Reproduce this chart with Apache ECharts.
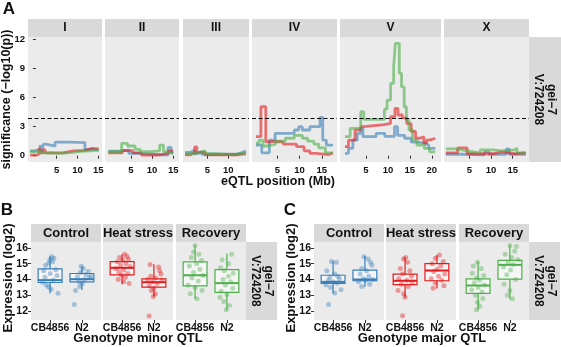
<!DOCTYPE html>
<html><head><meta charset="utf-8">
<script src="https://cdn.jsdelivr.net/npm/echarts@6/dist/echarts.min.js"></script>
<style>html,body{margin:0;padding:0;background:#fff}#c{width:561px;height:347px}</style>
</head><body><div id="c"></div>
<script>
// ---------------- DATA ----------------
const chrNames = ['I','II','III','IV','V','X'];
const chrXMin = [-1.9,-1.13,-0.79,-0.7,-0.93,-0.83];
const chrXMax = [15.9,16.36,14.93,18.4,22.1,18.75];
const chrTicks = [[5,10,15],[5,10,15],[5,10],[5,10,15],[5,10,15,20],[5,10,15]];
const sigTicks = [0,3,6,9,12];
const threshold = 3.88;
const traitLabel = 'gei\u22127\nV:724208';

// significance profiles per chromosome: [position Mb, -log10(p)] (step)
const controlSig = [
  [[-1.4,0.5],[-0.5,0.6],[1.0,1.1],[1.4,0.4],[1.8,1.2],[2.4,1.0],[4.6,1.4],[8,1.35],[11.8,0.65],[13.5,0.55],[15.1,0.55]],
  [[-0.35,0.48],[2,0.58],[4.5,0.24],[6.5,0.07],[13.8,0.86],[14.5,0.3],[15.0,0.3]],
  [[-0.3,0.35],[1,0.55],[2,0.2],[2.5,0.4],[3.7,0.15],[12,0.3],[13.2,0.5],[14.2,0.5]],
  [[0.2,1.1],[1.5,0.3],[3.2,1.6],[4.5,2.3],[8.8,2.65],[9.8,3.0],[10.6,2.65],[12.3,3.0],[14.6,3.95],[15.2,1.6],[16.0,1.1],[17.5,1.1]],
  [[0.2,0.25],[1,0.75],[2,1.6],[3,2.3],[3.8,2.82],[4.3,1.96],[7.3,2.3],[9.3,2.0],[11.5,3.0],[12.2,2.1],[13.8,1.8],[15.3,1.4],[16.8,1.3],[18.3,1.1],[19.3,0.75],[20.8,0.7]],
  [[-0.4,0.15],[3,0.1],[8.5,0.4],[9.5,0.15],[13.5,0.7],[14.2,0.15],[18,0.15]]
];
const heatSig = [
  [[-1.4,0.05],[0.3,0.2],[0.8,0.8],[1.2,0.3],[1.7,0.6],[2.2,0.3],[6.5,0.5],[9.0,0.55],[11.8,0.75],[13.5,0.7],[15.1,0.7]],
  [[-0.35,0.3],[3,0.52],[5.5,0.3],[7.5,0.07],[11.5,0.24],[13.8,0.48],[15.0,0.48]],
  [[-0.3,0.1],[1,0.3],[2.0,0.9],[2.5,0.35],[4.5,0.1],[12.5,0.2],[14.2,0.2]],
  [[0.2,1.96],[1.3,5.05],[2.4,1.44],[6.3,1.2],[9.3,0.93],[11.0,0.5],[12.3,0.25],[13.8,0.1],[16.5,0.3],[17.5,0.3]],
  [[0.2,0.93],[1,1.6],[2.5,2.65],[3.8,3.0],[4.5,3.2],[9.2,3.34],[10.6,4.03],[11.6,4.88],[12.3,4.2],[13.3,3.9],[14.3,3.3],[15.3,2.5],[16.3,1.8],[17.3,1.96],[18.2,1.3],[18.8,1.6],[19.5,1.8],[20.8,1.8]],
  [[-0.4,0.3],[2.3,0.8],[4.5,0.2],[10.5,0.4],[12.5,0.2],[15.5,0.3],[18,0.3]]
];
const recoverySig = [
  [[-1.4,0.4],[0.5,0.55],[1.2,0.3],[2.5,0.25],[6,0.35],[9,0.45],[11,0.5],[13,0.6],[15.1,0.6]],
  [[-0.35,0.41],[2.8,1.28],[4.2,1.0],[6,0.66],[7.2,0.41],[9.8,0.5],[11.8,1.1],[12.7,0.41],[13.3,0.24],[15.0,0.24]],
  [[-0.3,0.2],[1,0.35],[3.3,0.5],[4.5,0.2],[6.5,0.1],[11.5,0.3],[13.5,0.2],[14.2,0.2]],
  [[0.2,1.3],[0.9,1.6],[1.8,1.0],[2.8,1.2],[4.6,1.5],[6.8,1.8],[8.8,2.1],[10.6,1.8],[11.8,1.5],[13.2,1.2],[14.3,0.8],[15.8,0.3],[17.5,0.3]],
  [[0.2,1.96],[1.4,2.82],[3.2,2.9],[3.8,4.54],[4.5,3.75],[9.2,4.8],[9.8,5.74],[10.6,7.46],[11.3,9.2],[11.7,11.6],[12.6,8.5],[13.1,7.1],[13.7,5.05],[14.2,3.7],[14.8,2.65],[15.6,1.6],[16.6,1.1],[18.3,0.75],[19.5,0.4],[20.8,0.4]],
  [[-0.4,0.7],[2,0.5],[4.5,0.3],[7.5,0.6],[10.5,0.5],[12.5,0.6],[15.5,0.8],[16,0.3],[18,0.3]]
];

const conditions = ['Control','Heat stress','Recovery'];
const genotypes = ['CB4856','N2'];
const exprTicks = [12,13,14,15,16];

// box stats per condition: [genotype pos, lower whisker, Q1, median, Q3, upper whisker]
const minorBoxControl  = [[1,13.12,13.81,13.96,14.67,15.47],[2,13.33,13.85,14.02,14.38,14.84]];
const minorBoxHeat     = [[1,13.70,14.29,14.74,15.14,15.60],[2,12.90,13.52,13.83,14.04,14.97]];
const minorBoxRecovery = [[1,12.76,13.60,14.27,15.12,16.17],[2,12.06,13.18,13.77,14.63,15.64]];
const majorBoxControl  = [[1,13.12,13.75,13.85,14.27,15.16],[2,13.54,13.92,14.00,14.59,15.49]];
const majorBoxHeat     = [[1,12.86,13.68,13.92,14.34,15.39],[2,13.43,13.92,14.57,15.01,15.56]];
const majorBoxRecovery = [[1,12.06,13.12,13.62,14.04,15.12],[2,12.74,14.02,14.93,15.22,16.17]];

// jittered observations [jittered genotype pos, expression]
const minorPtsControl = [[1.05,15.45],[1.12,15.35],[0.99,15.25],[1.08,15.15],[0.96,15.05],[0.86,14.9],[1.18,14.62],[0.8,14.55],[1.0,14.38],[1.22,14.25],[0.84,14.15],[1.1,13.97],[0.76,13.82],[0.88,13.65],[0.95,13.52],[1.03,13.38],[1.25,13.12],
  [1.98,14.84],[2.04,14.7],[2.2,14.5],[1.95,14.45],[2.12,14.32],[2.28,14.22],[1.86,14.17],[2.23,14.12],[2.08,14.0],[1.9,13.87],[2.01,13.75],[1.93,13.55],[1.8,13.3],[1.76,12.42]];
const minorPtsHeat = [[1.08,15.6],[1.15,15.48],[0.92,15.4],[1.2,15.3],[1.02,15.22],[0.85,15.12],[1.12,15.0],[0.95,14.9],[1.25,14.82],[0.8,14.7],[1.05,14.6],[0.9,14.48],[1.18,14.38],[0.98,14.28],[1.1,14.15],[0.88,14.0],[1.05,13.85],[1.22,13.75],
  [1.88,14.95],[2.15,14.8],[2.18,14.55],[2.22,14.35],[1.9,14.2],[2.05,14.1],[1.8,14.0],[2.25,13.95],[1.95,13.85],[2.1,13.75],[1.85,13.6],[2.0,13.45],[1.92,13.3],[2.05,13.1],[1.98,12.92],[1.85,11.68]];
const minorPtsRecovery = [[1.0,16.15],[0.95,15.75],[1.12,15.6],[0.88,15.4],[1.2,15.2],[1.05,15.0],[0.82,14.85],[1.15,14.65],[0.95,14.45],[1.25,14.25],[0.9,14.1],[1.1,13.9],[0.78,13.65],[1.0,13.5],[1.22,13.3],[0.85,13.1],[1.06,12.78],
  [2.15,15.6],[1.85,15.25],[2.05,15.0],[1.8,14.75],[1.92,14.55],[2.2,14.4],[2.05,14.2],[1.88,14.0],[2.12,13.85],[1.95,13.65],[2.18,13.45],[1.82,13.25],[2.0,13.05],[1.78,12.85],[1.9,12.6],[2.08,12.35],[1.98,12.08]];
const majorPtsControl = [[0.95,15.15],[1.1,15.1],[0.8,14.55],[1.05,14.35],[1.15,14.2],[0.9,14.15],[1.2,14.05],[0.85,13.95],[1.0,13.85],[1.12,13.78],[0.78,13.65],[0.92,13.5],[1.25,13.35],[1.05,13.15],[0.86,12.42],
  [1.97,15.45],[2.1,15.3],[2.18,15.1],[2.22,14.9],[1.9,14.7],[2.05,14.55],[1.85,14.35],[2.12,14.2],[1.95,14.05],[2.25,14.0],[2.02,13.95],[1.8,13.85],[2.15,13.7],[1.9,13.55]];
const majorPtsHeat = [[1.02,15.39],[0.95,15.3],[1.08,15.1],[0.85,14.7],[1.15,14.55],[0.92,14.35],[1.2,14.2],[0.8,14.05],[1.05,13.95],[1.22,13.85],[0.88,13.7],[1.1,13.55],[0.78,13.3],[0.95,13.1],[1.0,12.88],[0.92,11.7],
  [2.08,15.55],[1.95,15.35],[2.2,15.15],[1.85,15.0],[2.12,14.85],[2.0,14.65],[1.9,14.5],[2.25,14.35],[2.05,14.2],[1.82,14.05],[2.15,13.95],[1.95,13.8],[2.22,13.6],[1.88,13.45]];
const majorPtsRecovery = [[0.98,15.1],[0.85,14.85],[1.1,14.7],[0.82,14.4],[1.18,14.25],[0.95,14.1],[1.05,13.95],[0.88,13.8],[1.2,13.65],[1.0,13.5],[0.8,13.35],[1.12,13.2],[0.92,13.0],[1.15,12.8],[0.98,12.55],[1.05,12.3],[0.95,12.08],
  [2.0,16.15],[2.2,16.1],[2.15,15.8],[1.85,15.6],[2.05,15.4],[2.25,15.25],[1.95,15.1],[2.1,14.95],[1.8,14.8],[2.02,14.6],[1.9,14.3],[2.18,14.0],[1.82,13.7],[2.0,13.3],[1.92,13.0],[2.08,12.78]];

// ---------------- LAYOUT / STYLE ----------------
const FONT = 'Liberation Sans, Arial, sans-serif';
const PANEL = '#ebebeb', STRIP = '#d9d9d9', TXT = '#111';
const condColors = ['#377EB8','#E41A1C','#4DAF4A'];
const condLine = ['rgba(55,126,184,0.6)','rgba(228,26,28,0.6)','rgba(77,175,74,0.6)'];
const condPt = ['rgba(55,126,184,0.5)','rgba(228,26,28,0.5)','rgba(77,175,74,0.5)'];

const aLeft = [28,105,183,252,340,444];
const aWidth = [74,74,66,85,101,85];
const aTop = 37, aH = 125, aStripTop = 19;
const bLeft = [31,103,176], cLeft = [314,386,459];
const bcW = [70,70,70], bcTop = 242, bcH = 78, bcStripTop = 224;

const grids = [], xAxes = [], yAxes = [], series = [], graphics = [];
const sigByCond = [controlSig, heatSig, recoverySig];

function strip(x, y, w, h, text, size) {
  graphics.push({type:'rect', shape:{x:x, y:y, width:w, height:h}, style:{fill:STRIP}, silent:true});
  graphics.push({type:'text', x:x+w/2, y:y+h/2, style:{text:text, font:'bold '+size+'px '+FONT, fill:TXT, align:'center', verticalAlign:'middle'}, silent:true});
}
function vstrip(x, y, w, h, size) {
  graphics.push({type:'rect', shape:{x:x, y:y, width:w, height:h}, style:{fill:STRIP}, silent:true});
  graphics.push({type:'text', x:x+w/2, y:y+h/2, rotation:-Math.PI/2, style:{text:traitLabel, font:'bold '+size+'px '+FONT, fill:TXT, align:'center', verticalAlign:'middle', lineHeight:13}, silent:true});
}
function label(text, x, y, size, rot) {
  graphics.push({type:'text', x:x, y:y, rotation:rot||0, style:{text:text, font:'bold '+size+'px '+FONT, fill:TXT, align:'center', verticalAlign:'middle'}, silent:true});
}

// ---- Panel A ----
chrNames.forEach((name, i) => {
  grids.push({left:aLeft[i], top:aTop, width:aWidth[i], height:aH, show:true, backgroundColor:PANEL, borderWidth:0, containLabel:false});
  const gi = grids.length - 1;
  xAxes.push({type:'value', gridIndex:gi, min:chrXMin[i], max:chrXMax[i],
    axisLine:{show:false}, splitLine:{show:false},
    axisTick:{show:true, length:3, lineStyle:{color:'#333'}, customValues:chrTicks[i]},
    axisLabel:{show:true, margin:3, customValues:chrTicks[i], color:TXT, fontFamily:FONT, fontWeight:'bold', fontSize:9.5}});
  yAxes.push({type:'value', gridIndex:gi, min:-0.65, max:12.25,
    axisLine:{show:false}, splitLine:{show:false},
    axisTick:{show:i===0, length:3, lineStyle:{color:'#333'}, customValues:sigTicks},
    axisLabel:{show:i===0, margin:3, customValues:sigTicks, color:TXT, fontFamily:FONT, fontWeight:'bold', fontSize:9.5}});
  sigByCond.forEach((arr, c) => {
    series.push({type:'line', xAxisIndex:gi, yAxisIndex:gi, data:arr[i], step:'end', showSymbol:false, silent:true,
      lineStyle:{color:condLine[c], width:2.8}, z:2+c, animation:false});
  });
  series.push({type:'line', xAxisIndex:gi, yAxisIndex:gi, data:[], silent:true, animation:false,
    markLine:{silent:true, symbol:'none', label:{show:false}, animation:false,
      lineStyle:{type:[4,2.5], color:'#000', width:1}, data:[{yAxis:threshold}]}});
  strip(aLeft[i], aStripTop, aWidth[i], aTop-aStripTop, name, 12);
});
vstrip(529, aTop, 32, aH, 12);

// ---- Panels B & C ----
function renderBox(params, api) {
  const x = api.value(0);
  const pLo = api.coord([x, api.value(1)]), pQ1 = api.coord([x, api.value(2)]),
        pMed = api.coord([x, api.value(3)]), pQ3 = api.coord([x, api.value(4)]),
        pHi = api.coord([x, api.value(5)]);
  const w = api.size([0.75, 0])[0];
  const col = api.visual('color');
  return {type:'group', children:[
    {type:'line', shape:{x1:pHi[0], y1:pHi[1], x2:pQ3[0], y2:pQ3[1]}, style:{stroke:col, lineWidth:1.2}},
    {type:'line', shape:{x1:pLo[0], y1:pLo[1], x2:pQ1[0], y2:pQ1[1]}, style:{stroke:col, lineWidth:1.2}},
    {type:'rect', shape:{x:pQ1[0]-w/2, y:pQ3[1], width:w, height:pQ1[1]-pQ3[1]}, style:{fill:'rgba(255,255,255,0.55)', stroke:col, lineWidth:1.2}},
    {type:'line', shape:{x1:pMed[0]-w/2, y1:pMed[1], x2:pMed[0]+w/2, y2:pMed[1]}, style:{stroke:col, lineWidth:2}}
  ]};
}
const boxSets = [[minorBoxControl, minorBoxHeat, minorBoxRecovery],[majorBoxControl, majorBoxHeat, majorBoxRecovery]];
const ptSets = [[minorPtsControl, minorPtsHeat, minorPtsRecovery],[majorPtsControl, majorPtsHeat, majorPtsRecovery]];
[bLeft, cLeft].forEach((lefts, p) => {
  conditions.forEach((cond, c) => {
    grids.push({left:lefts[c], top:bcTop, width:bcW[c], height:bcH, show:true, backgroundColor:PANEL, borderWidth:0, containLabel:false});
    const gi = grids.length - 1;
    xAxes.push({type:'value', gridIndex:gi, min:0.4, max:2.6,
      axisLine:{show:false}, splitLine:{show:false},
      axisTick:{show:true, length:3, lineStyle:{color:'#333'}, customValues:[1,2]},
      axisLabel:{show:true, margin:3, customValues:[1,2], formatter:v => genotypes[Math.round(v)-1],
        color:TXT, fontFamily:FONT, fontWeight:'bold', fontSize:10.5}});
    yAxes.push({type:'value', gridIndex:gi, min:11.43, max:16.38,
      axisLine:{show:false}, splitLine:{show:false},
      axisTick:{show:c===0, length:3, lineStyle:{color:'#333'}, customValues:exprTicks},
      axisLabel:{show:c===0, margin:3, customValues:exprTicks, color:TXT, fontFamily:FONT, fontWeight:'bold', fontSize:10.5}});
    series.push({type:'custom', xAxisIndex:gi, yAxisIndex:gi, data:boxSets[p][c], renderItem:renderBox,
      encode:{x:0, y:[1,2,3,4,5]}, itemStyle:{color:condColors[c]}, silent:true, z:2, animation:false});
    series.push({type:'scatter', xAxisIndex:gi, yAxisIndex:gi, data:ptSets[p][c], symbolSize:5, silent:true,
      itemStyle:{color:condPt[c]}, z:3, animation:false});
    strip(lefts[c], bcStripTop, bcW[c], bcTop-bcStripTop, cond, 13);
  });
});
vstrip(246, bcTop, 31, bcH, 12);
vstrip(529, bcTop, 31, bcH, 12);

// titles & panel letters
label('A', 9, 9, 17);
label('B', 7, 210, 17);
label('C', 290, 210, 17);
label('significance (\u2212log10(p))', 7, 99.5, 12.5, Math.PI/2);
label('eQTL position (Mb)', 278, 181.5, 12.5);
label('Expression (log2)', 8, 278, 13, Math.PI/2);
label('Expression (log2)', 291, 278, 13, Math.PI/2);
label('Genotype minor QTL', 138, 338, 13);
label('Genotype major QTL', 422, 338, 13);

const chart = echarts.init(document.getElementById('c'), null, {renderer:'canvas'});
chart.setOption({animation:false, backgroundColor:'#fff', grid:grids, xAxis:xAxes, yAxis:yAxes, series:series, graphic:graphics});
</script></body></html>
